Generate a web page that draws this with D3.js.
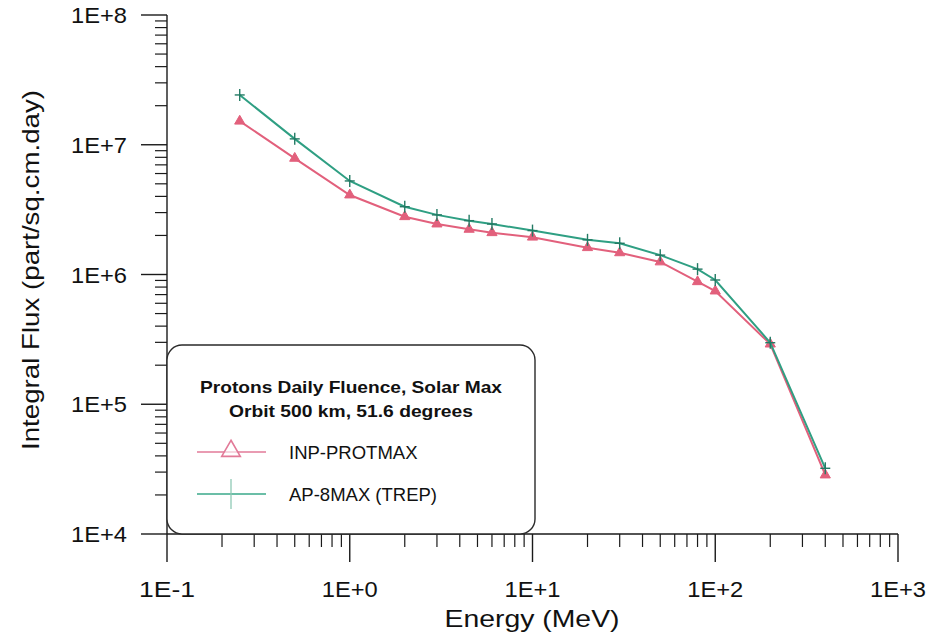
<!DOCTYPE html>
<html>
<head>
<meta charset="utf-8">
<script src="https://cdn.jsdelivr.net/npm/d3@7"></script>
<style>
  html, body { margin: 0; padding: 0; background: #fff; }
  svg { display: block; }
  text { font-family: "Liberation Sans", Arial, Helvetica, sans-serif; fill: #111; }
</style>
</head>
<body>
<svg id="chart" width="929" height="641"></svg>
<script>
// Proton energies (MeV)
const energies = [0.25, 0.5, 1, 2, 3, 4.5, 6, 10, 20, 30, 50, 80, 100, 200, 400];
// Integral flux, part/sq.cm.day
const inpProtmax = [1.52e7, 7.86e6, 4.1e6, 2.79e6, 2.45e6, 2.23e6, 2.10e6, 1.94e6, 1.61e6, 1.47e6, 1.25e6, 8.8e5, 7.46e5, 2.91e5, 2.85e4];
const ap8max = [2.42e7, 1.11e7, 5.26e6, 3.33e6, 2.88e6, 2.60e6, 2.45e6, 2.18e6, 1.85e6, 1.74e6, 1.41e6, 1.10e6, 9.07e5, 2.98e5, 3.21e4];

const seriesNames = ["INP-PROTMAX", "AP-8MAX (TREP)"];
const legendTitle = ["Protons Daily Fluence, Solar Max", "Orbit 500 km, 51.6 degrees"];
const xTickLabels = ["1E-1", "1E+0", "1E+1", "1E+2", "1E+3"];
const yTickLabels = ["1E+4", "1E+5", "1E+6", "1E+7", "1E+8"];
const xTitle = "Energy (MeV)";
const yTitle = "Integral Flux (part/sq.cm.day)";

const svg = d3.select("#chart");
const plotLeft = 167, plotRight = 898, plotTop = 15, plotBottom = 534;

const x = d3.scaleLog().domain([0.1, 1000]).range([plotLeft, plotRight]);
const y = d3.scaleLog().domain([1e4, 1e8]).range([plotBottom, plotTop]);

const RED = "#e2607c", GREEN = "#2f9f83", AXIS = "#1a1a1a";

function fit(sel, w) {
  sel.attr("textLength", w).attr("lengthAdjust", "spacingAndGlyphs");
}

// ---- axes ----
const gx = svg.append("g");
const xMinor = [];
for (let d = -1; d < 3; d++) for (let m = 2; m <= 9; m++) xMinor.push(m * Math.pow(10, d));
const xMajor = [0.1, 1, 10, 100, 1000];

gx.append("line").attr("x1", plotLeft).attr("x2", plotRight).attr("y1", plotBottom).attr("y2", plotBottom)
  .attr("stroke", AXIS).attr("stroke-width", 1.4);
gx.selectAll(".xmin").data(xMinor).join("line")
  .attr("x1", d => x(d)).attr("x2", d => x(d)).attr("y1", plotBottom).attr("y2", plotBottom + 13)
  .attr("stroke", AXIS).attr("stroke-width", 1.2);
gx.selectAll(".xmaj").data(xMajor).join("line")
  .attr("x1", d => x(d)).attr("x2", d => x(d)).attr("y1", plotBottom).attr("y2", plotBottom + 28)
  .attr("stroke", AXIS).attr("stroke-width", 1.4);
gx.selectAll(".xlab").data(xMajor).join("text")
  .attr("x", d => x(d)).attr("y", 597).attr("text-anchor", "middle")
  .attr("font-size", 22)
  .text((d, i) => xTickLabels[i])
  .call(fit, 56);

const gy = svg.append("g");
const yMinor = [];
for (let d = 4; d < 8; d++) for (let m = 2; m <= 9; m++) yMinor.push(m * Math.pow(10, d));
const yMajor = [1e4, 1e5, 1e6, 1e7, 1e8];

gy.append("line").attr("x1", plotLeft).attr("x2", plotLeft).attr("y1", plotTop).attr("y2", plotBottom)
  .attr("stroke", AXIS).attr("stroke-width", 1.4);
gy.selectAll(".ymin").data(yMinor).join("line")
  .attr("x1", plotLeft - 12).attr("x2", plotLeft).attr("y1", d => y(d)).attr("y2", d => y(d))
  .attr("stroke", AXIS).attr("stroke-width", 1.2);
gy.selectAll(".ymaj").data(yMajor).join("line")
  .attr("x1", plotLeft - 26).attr("x2", plotLeft).attr("y1", d => y(d)).attr("y2", d => y(d))
  .attr("stroke", AXIS).attr("stroke-width", 1.4);
gy.selectAll(".ylab").data(yMajor).join("text")
  .attr("x", 127).attr("y", d => y(d) + 8).attr("text-anchor", "end")
  .attr("font-size", 22)
  .text((d, i) => yTickLabels[i])
  .call(fit, 56);

// axis titles
svg.append("text").attr("x", 532).attr("y", 627).attr("text-anchor", "middle")
  .attr("font-size", 24).text(xTitle).call(fit, 175);
svg.append("text").attr("transform", "translate(39,270) rotate(-90)")
  .attr("text-anchor", "middle").attr("font-size", 24).text(yTitle).call(fit, 360);

// ---- legend box ----
const lg = svg.append("g");
lg.append("rect").attr("x", plotLeft).attr("y", 345).attr("width", 535 - plotLeft).attr("height", plotBottom - 345)
  .attr("rx", 15).attr("ry", 15)
  .attr("fill", "#fff").attr("stroke", "#2a2a2a").attr("stroke-width", 1.4);
lg.append("text").attr("x", 351).attr("y", 393).attr("text-anchor", "middle")
  .attr("font-size", 17).attr("font-weight", "bold").text(legendTitle[0]).call(fit, 302);
lg.append("text").attr("x", 351).attr("y", 416.5).attr("text-anchor", "middle")
  .attr("font-size", 17).attr("font-weight", "bold").text(legendTitle[1]).call(fit, 244);

const legendRows = [
  { name: seriesNames[0], color: "#e27a98", sym: "tri", ly: 452, ty: 459 },
  { name: seriesNames[1], color: "#3aa88a", sym: "plus", ly: 494, ty: 501 }
];
legendRows.forEach(r => {
  lg.append("line").attr("x1", 197).attr("x2", 266).attr("y1", r.ly).attr("y2", r.ly)
    .attr("stroke", r.color).attr("stroke-width", 1.3);
  if (r.sym === "tri") {
    lg.append("path").attr("d", d3.symbol(d3.symbolTriangle, 150)())
      .attr("transform", `translate(231,${r.ly - 1})`)
      .attr("fill", "#fff").attr("fill-opacity", 0.6).attr("stroke", r.color).attr("stroke-width", 1.6);
  } else {
    lg.append("line").attr("x1", 231).attr("x2", 231).attr("y1", r.ly - 15).attr("y2", r.ly + 15)
      .attr("stroke", "#8fc9b5").attr("stroke-width", 1.3);
  }
  lg.append("text").attr("x", 289).attr("y", r.ty).attr("font-size", 18.5)
    .attr("fill", "#222").text(r.name);
});

// ---- series ----
const line = d3.line().x(d => x(d[0])).y(d => y(d[1]));
const inpPts = energies.map((e, i) => [e, inpProtmax[i]]);
const apPts = energies.map((e, i) => [e, ap8max[i]]);

svg.append("path").datum(inpPts).attr("d", line)
  .attr("fill", "none").attr("stroke", RED).attr("stroke-width", 2);
svg.selectAll(".tri").data(inpPts).join("path")
  .attr("d", d3.symbol(d3.symbolTriangle, 45)())
  .attr("transform", d => `translate(${x(d[0])},${y(d[1])})`)
  .attr("fill", RED).attr("stroke", RED).attr("stroke-width", 1);

svg.append("path").datum(apPts).attr("d", line)
  .attr("fill", "none").attr("stroke", GREEN).attr("stroke-width", 2);
const plus = svg.selectAll(".plus").data(apPts).join("g")
  .attr("transform", d => `translate(${x(d[0])},${y(d[1])})`);
plus.append("line").attr("x1", -5).attr("x2", 5).attr("stroke", "#237a64").attr("stroke-width", 1.4);
plus.append("line").attr("y1", -6).attr("y2", 6).attr("stroke", "#237a64").attr("stroke-width", 1.4);
</script>
</body>
</html>
